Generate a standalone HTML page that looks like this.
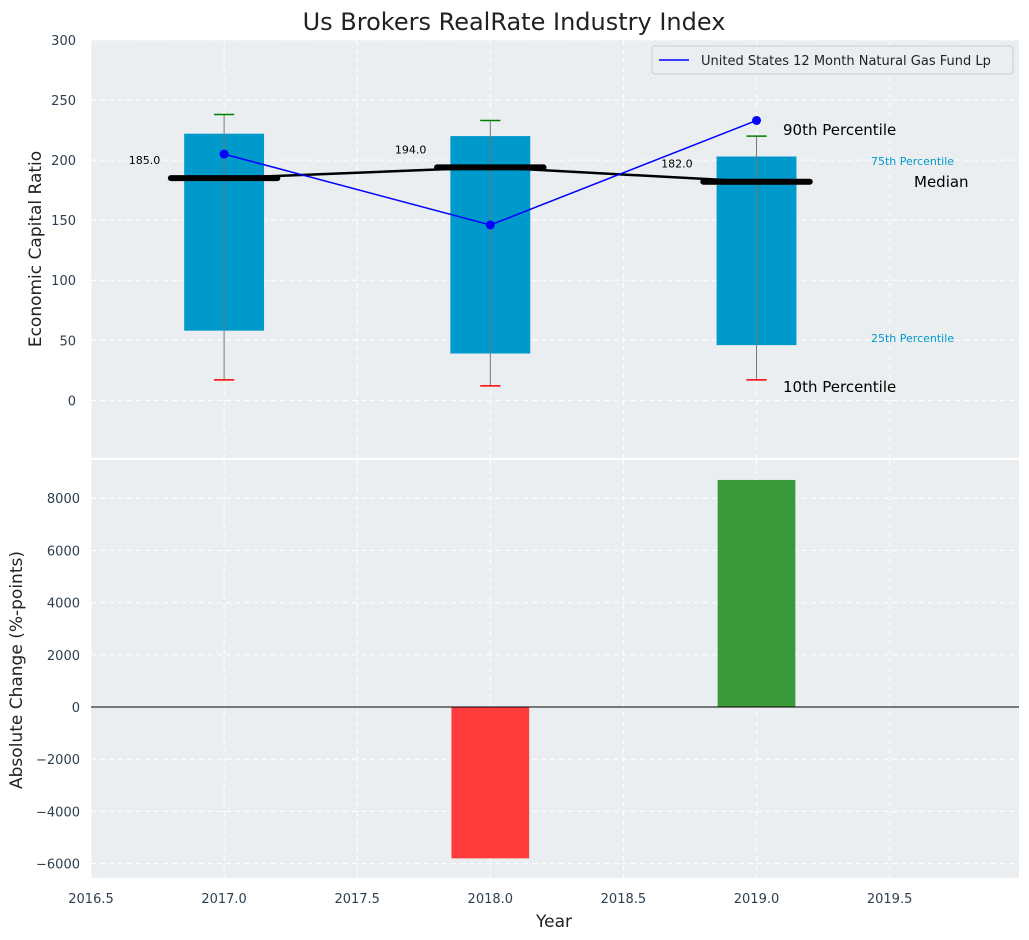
<!DOCTYPE html>
<html><head><meta charset="utf-8">
<style>
body{margin:0;background:#fff;font-family:"Liberation Sans","DejaVu Sans",sans-serif;}
svg{display:block}
text{font-family:"DejaVu Sans","Liberation Sans",sans-serif;}
</style></head>
<body>
<svg id="c" width="1029" height="940" viewBox="0 0 1029 940"></svg>
<script>
const years=[2017,2018,2019];
const p10=[17,12,17];
const p25=[58,39,46];
const median=[185,194,182];
const p75=[222,220,203];
const p90=[238,233,220];
const fund=[205,146,233];
const change=[0,-5800,8700];
const xTicks=[2016.5,2017.0,2017.5,2018.0,2018.5,2019.0,2019.5];
const topTicks=[0,50,100,150,200,250,300];
const botTicks=[-6000,-4000,-2000,0,2000,4000,6000,8000];

const NS="http://www.w3.org/2000/svg";
const svg=document.getElementById('c');
function el(tag,attrs,parent,name,txt){const e=document.createElementNS(NS,tag);for(const k in attrs)e.setAttribute(k,attrs[k]);


if(txt!==undefined)e.textContent=txt;(parent||svg).appendChild(e);return e;}
const L=91,R=1019;
const X=v=>L+(v-2016.5)/(2019.986-2016.5)*(R-L);
const T0=40,T1=458, B0=460,B1=878;
const YT=v=>T1-(v-(-48))/(300-(-48))*(T1-T0);
const YB=v=>B1-(v-(-6552))/(9464-(-6552))*(B1-B0);

el('rect',{x:L,y:T0,width:R-L,height:T1-T0,fill:'#eaeef0'},svg,'top-plot-area');
el('rect',{x:L,y:B0,width:R-L,height:B1-B0,fill:'#eaeef0'},svg,'bottom-plot-area');
const grid={stroke:'#fff','stroke-dasharray':'5,4','stroke-width':1};
xTicks.forEach(t=>{
 el('line',Object.assign({x1:X(t),x2:X(t),y1:T0,y2:T1},grid),svg,'x-grid-top');
 el('line',Object.assign({x1:X(t),x2:X(t),y1:B0,y2:B1},grid),svg,'x-grid-bottom');
 el('text',{x:X(t),y:903,'text-anchor':'middle','font-size':13,fill:'#2d3e50'},svg,'x-tick-label',t.toFixed(1));
});
topTicks.forEach(t=>{
 el('line',Object.assign({x1:L,x2:R,y1:YT(t),y2:YT(t)},grid),svg,'y-grid-top');
 el('text',{x:76,y:YT(t)+5,'text-anchor':'end','font-size':13,fill:'#2d3e50'},svg,'y-tick-label-top',t);
});
botTicks.forEach(t=>{
 el('line',Object.assign({x1:L,x2:R,y1:YB(t),y2:YB(t)},grid),svg,'y-grid-bottom');
 el('text',{x:80,y:YB(t)+5,'text-anchor':'end','font-size':13,fill:'#2d3e50'},svg,'y-tick-label-bottom',t<0?'\u2212'+(-t):t);
});
// boxes
years.forEach((y,i)=>{
 el('rect',{x:X(y-0.15),y:YT(p75[i]),width:X(y+0.15)-X(y-0.15),height:YT(p25[i])-YT(p75[i]),fill:'#0099cc'},svg,'box-'+y);
 el('line',{x1:X(y),x2:X(y),y1:YT(p90[i]),y2:YT(p10[i]),stroke:'#777','stroke-width':1},svg,'whisker-'+y);
 el('line',{x1:X(y-0.038),x2:X(y+0.038),y1:YT(p90[i]),y2:YT(p90[i]),stroke:'green','stroke-width':1.5},svg,'cap-90-'+y);
 el('line',{x1:X(y-0.038),x2:X(y+0.038),y1:YT(p10[i]),y2:YT(p10[i]),stroke:'red','stroke-width':1.5},svg,'cap-10-'+y);
 el('line',{x1:X(y-0.2),x2:X(y+0.2),y1:YT(median[i]),y2:YT(median[i]),stroke:'#000','stroke-width':6,'stroke-linecap':'round'},svg,'median-'+y);
 el('text',{x:X(y-0.24),y:YT(median[i])-14,'text-anchor':'end','font-size':11,fill:'#000'},svg,'median-label',median[i].toFixed(1));
});
el('polyline',{points:years.map((y,i)=>X(y)+','+YT(median[i])).join(' '),fill:'none',stroke:'#000','stroke-width':2.5},svg,'median-line');
el('polyline',{points:years.map((y,i)=>X(y)+','+YT(fund[i])).join(' '),fill:'none',stroke:'blue','stroke-width':1.5},svg,'fund-line');
years.forEach((y,i)=>el('circle',{cx:X(y),cy:YT(fund[i]),r:4.5,fill:'blue'},svg,'fund-point'));
// annotations
el('text',{x:783,y:135,'font-size':15,fill:'#000'},svg,'label-90th','90th Percentile');
el('text',{x:783,y:392,'font-size':15,fill:'#000'},svg,'label-10th','10th Percentile');
el('text',{x:914,y:187,'font-size':15,fill:'#000'},svg,'label-median','Median');
el('text',{x:871,y:165,'font-size':11,fill:'#0099cc'},svg,'label-75th','75th Percentile');
el('text',{x:871,y:342,'font-size':11,fill:'#0099cc'},svg,'label-25th','25th Percentile');
// bottom bars
years.forEach((y,i)=>{
 if(change[i]===0)return;
 const top=YB(Math.max(0,change[i])),bot=YB(Math.min(0,change[i]));
 el('rect',{x:X(y-0.146),y:top,width:X(y+0.146)-X(y-0.146),height:bot-top,fill:change[i]<0?'#ff3c3c':'#3a9a3a'},svg,'change-bar-'+y);
});
el('line',{x1:L,x2:R,y1:YB(0),y2:YB(0),stroke:'#000','stroke-width':1},svg,'zero-line');
// legend
const lg=el('g',{},svg,'legend');
el('rect',{x:652,y:46,width:361,height:28,fill:'#eaeef0',stroke:'#ccc',rx:3},lg,'legend-box');
el('line',{x1:659,x2:689,y1:60,y2:60,stroke:'blue','stroke-width':1.5},lg,'legend-swatch');
el('text',{x:701,y:65,'font-size':13,fill:'#222'},lg,'legend-entry','United States 12 Month Natural Gas Fund Lp');
// titles
el('text',{x:514,y:30,'text-anchor':'middle','font-size':24,fill:'#222'},svg,'chart-title','Us Brokers RealRate Industry Index');
el('text',{x:554,y:927,'text-anchor':'middle','font-size':17,fill:'#222'},svg,'x-axis-title','Year');
el('text',{x:0,y:0,transform:'translate(41,249) rotate(-90)','text-anchor':'middle','font-size':17,fill:'#222'},svg,'y-axis-title-top','Economic Capital Ratio');
el('text',{x:0,y:0,transform:'translate(22,670) rotate(-90)','text-anchor':'middle','font-size':17,fill:'#222'},svg,'y-axis-title-bottom','Absolute Change (%-points)');
</script>
</body></html>
